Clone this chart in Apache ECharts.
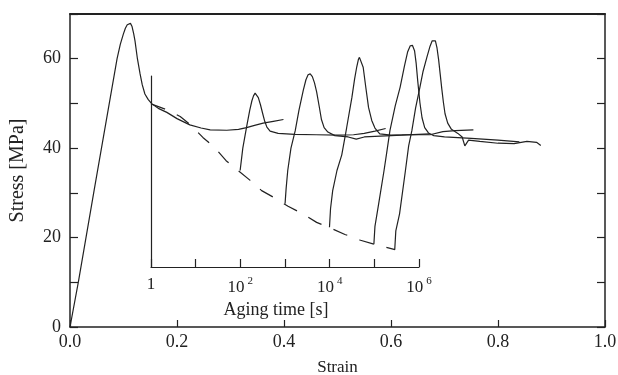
<!DOCTYPE html>
<html>
<head>
<meta charset="utf-8">
<script src="https://cdn.jsdelivr.net/npm/echarts@6/dist/echarts.min.js"></script>
<style>
html,body{margin:0;padding:0;background:#fff;}
#chart{width:618px;height:375px;}
</style>
</head>
<body>
<div id="chart"></div>
<script>
// ---- data (strain, stress MPa) ----
var mainCurve = [[0,0],[0.0155,10],[0.045,30.5],[0.088,60],[0.094,63.2],[0.0997,65.5],[0.1035,66.8],[0.107,67.6],[0.110,68.0],[0.113,67.9],[0.116,67.2],[0.119,65.6],[0.1215,64.0],[0.126,60],[0.131,56.6],[0.135,54.2],[0.140,52.1],[0.146,50.9],[0.153,49.9],[0.165,48.9],[0.181,48.0],[0.200,46.6],[0.224,45.2],[0.245,44.5],[0.262,44.1],[0.293,44.0],[0.315,44.2],[0.330,44.6],[0.345,45.1],[0.361,45.6],[0.380,46.0],[0.399,46.4]];
var reload1 = [[0.318,35.0],[0.320,37.0],[0.323,40.0],[0.330,44.7],[0.336,48.5],[0.340,50.6],[0.343,51.7],[0.346,52.3],[0.349,52.2],[0.352,51.3],[0.356,49.7],[0.360,47.8],[0.364,46.0],[0.368,44.7],[0.374,43.8],[0.389,43.3],[0.42,43.1],[0.46,43.0],[0.50,42.9],[0.53,43.0],[0.55,43.3],[0.57,43.8],[0.59,44.4]];
var reload2 = [[0.402,27.6],[0.404,31.0],[0.407,35.0],[0.413,40.0],[0.421,43.9],[0.428,48.5],[0.436,52.9],[0.441,55.3],[0.445,56.4],[0.449,56.6],[0.453,56.0],[0.457,54.6],[0.461,52.6],[0.466,49.2],[0.470,46.4],[0.475,44.6],[0.482,43.6],[0.495,42.8],[0.52,42.5],[0.535,42.0],[0.55,42.5],[0.58,42.7],[0.62,42.9],[0.672,43.2]];
var reload3 = [[0.485,22.3],[0.487,26.5],[0.491,30.5],[0.499,35.0],[0.508,38.5],[0.517,44.5],[0.527,51.4],[0.532,55.5],[0.536,58.2],[0.539,59.8],[0.541,60.3],[0.544,59.9],[0.548,58.1],[0.553,53.5],[0.558,49.1],[0.564,46.2],[0.570,44.5],[0.579,43.2],[0.60,42.9],[0.63,43.0],[0.673,43.0],[0.697,43.7],[0.72,43.9],[0.754,44.1]];
var reload4 = [[0.568,18.5],[0.570,22.5],[0.577,27.6],[0.587,35.0],[0.592,39.0],[0.598,43.9],[0.608,49.5],[0.617,53.6],[0.625,58.3],[0.631,61.5],[0.636,62.9],[0.640,63.0],[0.644,61.8],[0.647,59.0],[0.650,55.0],[0.654,50.2],[0.658,46.8],[0.663,44.6],[0.670,43.4],[0.680,42.8],[0.70,42.5],[0.75,42.2],[0.80,41.8],[0.84,41.4]];
var reload5 = [[0.607,17.3],[0.609,21.5],[0.616,25.3],[0.627,35.0],[0.633,40.5],[0.639,43.9],[0.646,49.0],[0.654,53.6],[0.660,57.2],[0.667,60.3],[0.673,62.8],[0.677,64.0],[0.680,64.4],[0.683,64.0],[0.686,62.4],[0.689,59.8],[0.692,56.5],[0.695,53.2],[0.698,50.2],[0.701,47.7],[0.706,45.6],[0.713,44.2],[0.725,43.3],[0.733,42.5],[0.738,40.5],[0.745,41.8],[0.766,41.5],[0.80,41.1],[0.83,41.0],[0.854,41.5],[0.872,41.3],[0.88,40.6]];
// inset: stress relaxation vs aging time (s, MPa)
var relaxation = [[1,49.9],[2.0,48.8],[4.5,47.1],[8.1,45.0],[14.5,42.4],[27,40.1],[48,37.2],[89,35.0],[166,32.8],[300,30.5],[630,28.7],[1170,27.0],[2500,25.3],[5100,23.4],[10000,22.2],[22000,20.7],[49000,19.4],[100000,18.5],[290000,17.3]];
var strainTicks = [0, 0.2, 0.4, 0.6, 0.8, 1.0];
var stressLabels = [0, 20, 40, 60];
var timeLabelExps = [0, 2, 4, 6];

var FONT = 'Liberation Serif';
var INK = '#222';
var chart = echarts.init(document.getElementById('chart'), null, {renderer:'canvas'});

function curve(data){
  return {type:'line', xAxisIndex:0, yAxisIndex:0, data:data, showSymbol:false, smooth:false,
    lineStyle:{color:INK, width:1.2}, silent:true};
}

chart.setOption({
  animation:false,
  backgroundColor:'#fff',
  grid:[
    {left:70, right:13, top:14, bottom:48, containLabel:false, outerBoundsMode:'none'},
    {left:151, right:199, top:76, bottom:108, containLabel:false, outerBoundsMode:'none'}
  ],
  xAxis:[
    {gridIndex:0, type:'value', min:0, max:1, interval:0.2, position:'bottom',
     axisLine:{show:true, onZero:false, lineStyle:{color:INK, width:1.5}},
     axisTick:{show:true, inside:true, length:7, lineStyle:{color:INK, width:1.2}},
     axisLabel:{color:INK, fontFamily:FONT, fontSize:18, margin:6,
       formatter:function(v){ return strainTicks.indexOf(Math.round(v*10)/10)>=0 ? v.toFixed(1) : ''; }},
     splitLine:{show:false},
     name:'Strain', nameLocation:'middle', nameGap:32,
     nameTextStyle:{color:INK, fontFamily:FONT, fontSize:17}},
    {gridIndex:0, type:'value', min:0, max:1, position:'top',
     axisLine:{show:true, onZero:false, lineStyle:{color:INK, width:2}},
     axisTick:{show:false}, axisLabel:{show:false}, splitLine:{show:false}},
    {gridIndex:1, type:'log', logBase:10, min:1, max:1000000, interval:1, position:'bottom',
     axisLine:{show:true, onZero:false, lineStyle:{color:INK, width:1.2}},
     axisTick:{show:true, inside:true, length:8, lineStyle:{color:INK, width:1.2}},
     axisLabel:{color:INK, fontFamily:FONT, fontSize:17, margin:9,
       formatter:function(v){
         var e = Math.round(Math.log(v)/Math.LN10);
         if (timeLabelExps.indexOf(e) < 0) return '';
         if (e === 0) return '1';
         return '{b|10}{sup|' + e + '}';
       },
       rich:{
         b:{fontFamily:FONT, fontSize:17, color:INK, lineHeight:20, verticalAlign:'bottom'},
         sup:{fontFamily:FONT, fontSize:11, color:INK, verticalAlign:'top', padding:[0,0,0,3]}
       }},
     splitLine:{show:false},
     name:'Aging time [s]', nameLocation:'middle', nameGap:33,
     nameTextStyle:{color:INK, fontFamily:FONT, fontSize:18, padding:[0,18,0,0]}}
  ],
  yAxis:[
    {gridIndex:0, type:'value', min:0, max:70, interval:10, position:'left',
     axisLine:{show:true, onZero:false, lineStyle:{color:INK, width:1.5}},
     axisTick:{show:true, inside:true, length:8, lineStyle:{color:INK, width:1.2}},
     axisLabel:{color:INK, fontFamily:FONT, fontSize:18, margin:9,
       formatter:function(v){ return stressLabels.indexOf(v)>=0 ? String(v) : ''; }},
     splitLine:{show:false},
     name:'Stress [MPa]', nameLocation:'middle', nameGap:42, nameRotate:90,
     nameTextStyle:{color:INK, fontFamily:FONT, fontSize:20}},
    {gridIndex:0, type:'value', min:0, max:70, interval:10, position:'right',
     axisLine:{show:true, onZero:false, lineStyle:{color:INK, width:1.5}},
     axisTick:{show:true, inside:true, length:8, lineStyle:{color:INK, width:1.2}},
     axisLabel:{show:false}, splitLine:{show:false}},
    {gridIndex:1, type:'value', min:13.42, max:56.14, position:'left',
     axisLine:{show:true, onZero:false, lineStyle:{color:INK, width:1.2}},
     axisTick:{show:false}, axisLabel:{show:false}, splitLine:{show:false}}
  ],
  series:[
    curve(mainCurve), curve(reload1), curve(reload2), curve(reload3), curve(reload4), curve(reload5),
    {type:'line', xAxisIndex:2, yAxisIndex:2, data:relaxation, showSymbol:false, smooth:false, silent:true,
     lineStyle:{color:INK, width:1.2, type:[15,13]}}
  ]
});
</script>
</body>
</html>
